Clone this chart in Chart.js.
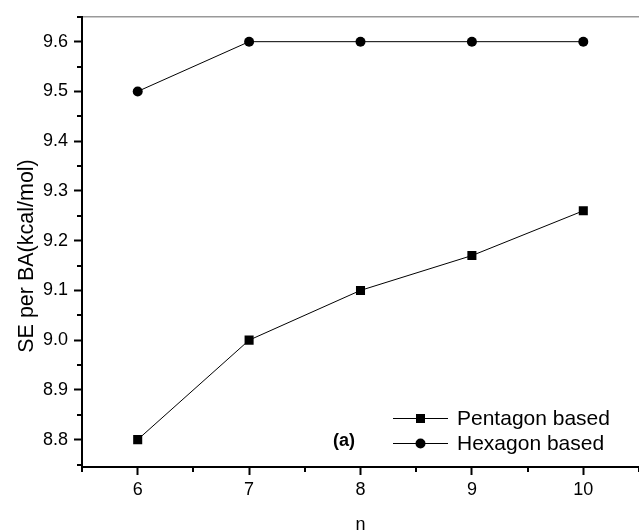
<!DOCTYPE html>
<html>
<head>
<meta charset="utf-8">
<script src="https://cdn.jsdelivr.net/npm/chart.js@4"></script>
<style>
  body { margin: 0; background: #fff; overflow: hidden; }
  #wrap { width: 639px; height: 531px; position: relative; }
</style>
</head>
<body>
<div id="wrap"><canvas id="chart"></canvas></div>
<script>
// data
const nValues = [6, 7, 8, 9, 10];
const pentagon = [8.80, 9.00, 9.10, 9.17, 9.26];
const hexagon = [9.50, 9.60, 9.60, 9.60, 9.60];
const seriesNames = ["Pentagon based", "Hexagon based"];
const panelLabel = "(a)";
const yTitle = "SE per BA(kcal/mol)";

const FONT = "'Liberation Sans', Arial, sans-serif";

function toPoints(ys) {
  return nValues.map((x, i) => ({ x: x, y: ys[i] }));
}

// minor ticks half way between the major ones, drawn outward
const minorTicks = {
  id: "minorTicks",
  afterDraw(chart) {
    const ctx = chart.ctx;
    const area = chart.chartArea;
    ctx.save();
    ctx.strokeStyle = "#000";
    ctx.lineWidth = 2;

    const ys = chart.scales.y;
    const yt = ys.ticks.map((t) => t.value);
    const ystep = yt[1] - yt[0];
    for (let v = yt[0] - ystep / 2; v <= ys.max + 1e-9; v += ystep) {
      if (v < ys.min) continue;
      const py = Math.round(ys.getPixelForValue(v));
      ctx.beginPath();
      ctx.moveTo(area.left, py);
      ctx.lineTo(area.left - 5, py);
      ctx.stroke();
    }

    const xs = chart.scales.x;
    const xt = xs.ticks.map((t) => t.value);
    const xstep = xt[1] - xt[0];
    for (let v = xt[0] - xstep / 2; v <= xs.max + 1e-9; v += xstep) {
      if (v < xs.min) continue;
      const px = Math.round(xs.getPixelForValue(v));
      ctx.beginPath();
      ctx.moveTo(px, area.bottom);
      ctx.lineTo(px, area.bottom + 5);
      ctx.stroke();
    }
    ctx.restore();
  },
};

// legend, panel label and y title
const annotations = {
  id: "annotations",
  afterDraw(chart) {
    const ctx = chart.ctx;
    ctx.save();
    const x0 = 393, x1 = 448, tx = 457;
    const rows = [418, 443];
    chart.data.datasets.forEach((ds, i) => {
      const y = rows[i];
      ctx.strokeStyle = "#000";
      ctx.lineWidth = 1;
      ctx.beginPath();
      ctx.moveTo(x0, y + 0.5);
      ctx.lineTo(x1, y + 0.5);
      ctx.stroke();
      ctx.fillStyle = "#000";
      Chart.helpers.drawPoint(ctx, {
        pointStyle: ds.pointStyle,
        radius: ds.pointRadius,
        rotation: 0,
      }, (x0 + x1) / 2, y + 0.5);
      ctx.fillStyle = "#000";
      ctx.font = "21px " + FONT;
      ctx.textBaseline = "middle";
      ctx.textAlign = "left";
      ctx.fillText(ds.label, tx, y + 1);
    });
    ctx.font = "bold 18px " + FONT;
    ctx.textBaseline = "middle";
    ctx.fillText(panelLabel, 333, 441);

    ctx.translate(33, 256);
    ctx.rotate(-Math.PI / 2);
    ctx.font = "21.5px " + FONT;
    ctx.textAlign = "center";
    ctx.textBaseline = "alphabetic";
    ctx.fillText(yTitle, 0, 0);
    ctx.restore();
  },
};

new Chart(document.getElementById("chart"), {
  type: "line",
  data: {
    datasets: [
      {
        label: seriesNames[0],
        data: toPoints(pentagon),
        borderColor: "#000",
        backgroundColor: "#000",
        borderWidth: 1,
        pointStyle: "rect",
        pointRadius: 6.4,
        pointHoverRadius: 6.4,
        pointBorderWidth: 0,
        tension: 0,
      },
      {
        label: seriesNames[1],
        data: toPoints(hexagon),
        borderColor: "#000",
        backgroundColor: "#000",
        borderWidth: 1,
        pointStyle: "circle",
        pointRadius: 5,
        pointHoverRadius: 5,
        pointBorderWidth: 0,
        tension: 0,
      },
    ],
  },
  options: {
    responsive: true,
    maintainAspectRatio: false,
    animation: false,
    events: [],
    layout: { autoPadding: false, padding: { top: 15, right: 0, bottom: 0, left: 0 } },
    plugins: {
      legend: { display: false },
      tooltip: { enabled: false },
    },
    scales: {
      x: {
        type: "linear",
        min: 5.5,
        max: 10.5,
        afterFit(scale) {
          scale.height = 64;
          scale.paddingLeft = 0;
          scale.paddingRight = 0;
        },
        afterBuildTicks(scale) {
          scale.ticks = nValues.map((v) => ({ value: v }));
        },
        border: { display: true, color: "#000", width: 2 },
        grid: {
          drawOnChartArea: false,
          drawTicks: true,
          tickLength: 8,
          tickColor: "#000",
          tickWidth: 2,
        },
        ticks: {
          padding: 4,
          color: "#000",
          maxRotation: 0,
          font: { family: FONT, size: 18 },
          callback: (v) => String(v),
        },
        title: {
          display: true,
          text: "n",
          color: "#000",
          font: { family: FONT, size: 18, lineHeight: 0.7 },
          padding: { top: 14, bottom: 0 },
        },
      },
      xTop: {
        type: "linear",
        position: "top",
        min: 5.5,
        max: 10.5,
        afterFit(scale) {
          scale.height = 0;
          scale.paddingLeft = 0;
          scale.paddingRight = 0;
        },
        border: { display: true, color: "#999", width: 1.5 },
        grid: { display: false, drawTicks: false },
        ticks: { display: false },
      },
      y: {
        type: "linear",
        min: 8.745,
        max: 9.65,
        afterFit(scale) { scale.width = 82; },
        border: { display: true, color: "#000", width: 2 },
        grid: {
          drawOnChartArea: false,
          drawTicks: true,
          tickLength: 8,
          tickColor: "#000",
          tickWidth: 2,
        },
        ticks: {
          stepSize: 0.1,
          includeBounds: false,
          padding: 6,
          color: "#000",
          font: { family: FONT, size: 18 },
          callback: (v) => Number(v).toFixed(1),
        },
      },
    },
  },
  plugins: [minorTicks, annotations],
});
</script>
</body>
</html>
